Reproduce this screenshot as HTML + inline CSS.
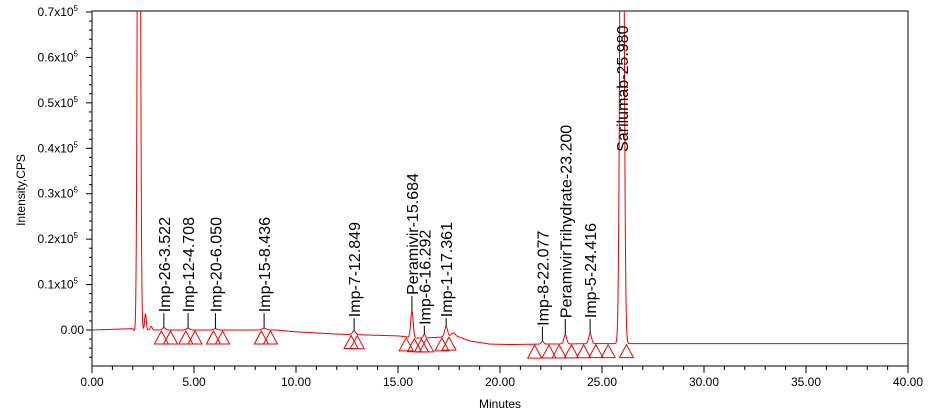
<!DOCTYPE html>
<html><head><meta charset="utf-8"><style>
html,body{margin:0;padding:0;background:#fff;}
svg{display:block;font-family:"Liberation Sans",Arial,sans-serif;}
</style></head><body>
<svg id="chart" width="938" height="411" viewBox="0 0 938 411" xmlns="http://www.w3.org/2000/svg">
<defs><clipPath id="plotclip"><rect x="92" y="11" width="816" height="355"/></clipPath></defs>
<g id="axes"></g>
<g id="trace" clip-path="url(#plotclip)"></g>
<g id="marks"></g>
<g id="labels"></g>
<text x="500" y="408" font-size="12" text-anchor="middle">Minutes</text>
<text transform="translate(25,190) rotate(-90)" font-size="12" text-anchor="middle">Intensity,CPS</text>
</svg>
<script>
// data (intensity in units of 1e5 CPS)
const baseT = [0,2.0,2.1,2.2,3.0,8.0,9.0,10.0,12.0,15.0,16.0,17.0,17.8,18.5,19.5,20.5,22.0,25.0,30.0,40.0];
const baseV = [0,0.003,-0.004,0.0,0.0,0.0,0.0,-0.004,-0.009,-0.013,-0.018,-0.016,-0.012,-0.024,-0.031,-0.032,-0.031,-0.030,-0.030,-0.030];
const peakT = [2.30,2.62,2.90,3.52,4.71,6.05,8.44,12.85,15.684,16.29,17.36,17.7,22.08,23.20,24.42,25.98];
const peakH = [2.0,0.035,0.008,0.005,0.004,0.003,0.004,0.008,0.058,0.008,0.022,0.006,0.006,0.02,0.022,2.0];
const peakW = [0.06,0.04,0.05,0.08,0.08,0.08,0.1,0.08,0.06,0.05,0.07,0.08,0.06,0.07,0.07,0.08];
const labelText = ["Imp-26-3.522","Imp-12-4.708","Imp-20-6.050","Imp-15-8.436","Imp-7-12.849","Peramivir-15.684","Imp-6-16.292","Imp-1-17.361","Imp-8-22.077","PeramivirTrihydrate-23.200","Imp-5-24.416","Sarilumab-25.980"];
const labelT = [3.522,4.708,6.050,8.436,12.849,15.684,16.292,17.361,22.077,23.200,24.416,25.980];
const labelV = [0.037,0.037,0.037,0.037,0.026,0.075,0.009,0.026,0.007,0.024,0.024,0.39];
const triT = [3.4,3.85,4.6,5.05,5.95,6.4,8.3,8.75,12.7,13.0,15.4,15.8,16.15,16.4,17.15,17.5,21.7,22.4,22.9,23.5,24.1,24.7,25.3,26.2];
const xTicks = [0,5,10,15,20,25,30,35,40];
const xTickLabels = ["0.00","5.00","10.00","15.00","20.00","25.00","30.00","35.00","40.00"];
const yTicks = [0,0.1,0.2,0.3,0.4,0.5,0.6,0.7];
const yTickLabels = ["0.00","0.1","0.2","0.3","0.4","0.5","0.6","0.7"];

const NS="http://www.w3.org/2000/svg";
const X0=92,X1=908,YT=11,YB=366;
const xs=t=>X0+(t/40)*(X1-X0);
const ys=v=>330-(v/0.7)*(330-12);
function mk(tag,attrs,parent){const e=document.createElementNS(NS,tag);for(const k in attrs)e.setAttribute(k,attrs[k]);parent.appendChild(e);return e;}
const axes=document.getElementById('axes');
let frame=mk('rect',{x:X0,y:YT,width:X1-X0,height:YB-YT,fill:'none',stroke:'#000','stroke-width':1},axes);


for(let t=0;t<=40;t++){
  const maj=t%5===0;
  let l=mk('line',{x1:xs(t),x2:xs(t),y1:YB,y2:YB+(maj?7:4),stroke:'#000'},axes);
  
  
}
xTicks.forEach((t,i)=>{
  let tx=mk('text',{x:xs(t),y:YB+20,'font-size':12,'text-anchor':'middle'},axes);
  tx.textContent=xTickLabels[i];
  
  
});
for(let k=-4;k<=35;k++){
  const v=k*0.02; const maj=k%5===0;
  const y=ys(v); if(y>YB||y<YT-1)continue;
  let l=mk('line',{x1:X0-(maj?6:3),x2:X0,y1:y,y2:y,stroke:'#000'},axes);
  
  
}
yTicks.forEach((v,i)=>{
  let tx=mk('text',{x:X0-8,y:ys(v)+4,'font-size':12,'text-anchor':'end'},axes);
  
  
  if(v===0){tx.textContent=yTickLabels[i];}
  else{
    tx.textContent=yTickLabels[i]+'x10';
    let s=mk('tspan',{'font-size':8,dy:-5},tx); s.textContent='5';
    tx.setAttribute('x',X0-14);
  }
});
function base(t){for(let i=0;i<baseT.length-1;i++){if(t<=baseT[i+1]){const f=(t-baseT[i])/(baseT[i+1]-baseT[i]);return baseV[i]+f*(baseV[i+1]-baseV[i]);}}return baseV[baseV.length-1];}
function sig(t){let v=base(t);for(let i=0;i<peakT.length;i++){const d=(t-peakT[i])/peakW[i];v+=peakH[i]*Math.exp(-0.5*d*d);}return v;}
let d='';
for(let t=0;t<=40.001;t+=0.01){d+=(t===0?'M':'L')+xs(t).toFixed(2)+','+Math.max(ys(sig(t)),-50).toFixed(2);}
let p=mk('path',{d:d,fill:'none',stroke:'#e00','stroke-width':1},document.getElementById('trace'));


const marks=document.getElementById('marks');
triT.forEach(t=>{
  const x=xs(t),y0=ys(base(t))+1;
  let tr=mk('polygon',{points:`${x},${y0} ${x-7},${y0+13} ${x+7},${y0+13}`,fill:'none',stroke:'#e00','stroke-width':1},marks);
  
  
});
const lab=document.getElementById('labels');
labelT.forEach((t,i)=>{
  const x=xs(t);
  const yl=ys(labelV[i]);
  const ySig=ys(sig(t));
  let ln=mk('line',{x1:x,x2:x,y1:yl,y2:(ySig<yl?yl:ySig),stroke:'#000'},lab);
  
  
  let tx=mk('text',{transform:`translate(${x+6},${yl-1}) rotate(-90)`,'font-size':16},lab);
  tx.textContent=labelText[i];
  
  
});
</script>
</body></html>
